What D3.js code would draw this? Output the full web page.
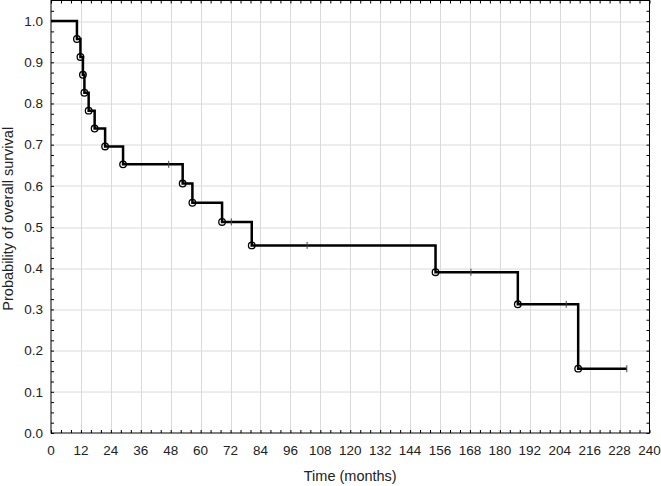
<!DOCTYPE html>
<html>
<head>
<meta charset="utf-8">
<script src="https://d3js.org/d3.v7.min.js"></script>
<style>
  body { margin: 0; background: #fff; }
  text { font-family: "Liberation Sans", Arial, sans-serif; }
</style>
</head>
<body>
<div id="km"></div>
<script>

// survival steps: time of each drop (months) and level after it
var stepTimes = [0, 10.4, 11.8, 12.8, 13.4, 15.1, 17.5, 21.7, 28.9, 52.8, 56.7, 68.6, 80.5, 154.2, 187.2, 211.4];
var stepSurv  = [1, 0.9565, 0.9130, 0.8696, 0.8261, 0.7826, 0.7391, 0.6957, 0.6522, 0.6056, 0.5590, 0.5124, 0.4555, 0.3904, 0.3124, 0.1562];
var lastTime = 230.9;

// censored observations
var censorTimes = [47.2, 72.3, 102.7, 168.4, 206.6, 230.9];

var xTicks = [0, 12, 24, 36, 48, 60, 72, 84, 96, 108, 120, 132, 144, 156, 168, 180, 192, 204, 216, 228, 240];
var yTicks = [0, 0.1, 0.2, 0.3, 0.4, 0.5, 0.6, 0.7, 0.8, 0.9, 1.0];

var width = 661, height = 486;
var margin = {top: 0.5, right: 11.5, bottom: 53, left: 51};
var w = width - margin.left - margin.right,
    h = height - margin.top - margin.bottom;

var svg = d3.select("#km")
  .append("svg")
    .attr("width", width)
    .attr("height", height)
  .append("g")
    .attr("transform", "translate(" + margin.left + "," + margin.top + ")");

var x = d3.scaleLinear().domain([0, 240]).range([0, w]);
var y = d3.scaleLinear().domain([0, 1.05]).range([h, 0]);

// grid
svg.append("g").selectAll("line")
  .data(xTicks.slice(1, -1))
  .enter().append("line")
    .attr("x1", function(d) { return Math.round(x(d)) + 0.5; })
    .attr("x2", function(d) { return Math.round(x(d)) + 0.5; })
    .attr("y1", 0).attr("y2", h)
    .style("stroke", "#dadada");

svg.append("g").selectAll("line")
  .data(yTicks.slice(1))
  .enter().append("line")
    .attr("y1", function(d) { return Math.round(y(d)) + 0.5; })
    .attr("y2", function(d) { return Math.round(y(d)) + 0.5; })
    .attr("x1", 0).attr("x2", w)
    .style("stroke", "#dadada");

// inward minor ticks on all four sides
var xMinor = d3.range(0, 241, 4);
var yMinor = d3.range(0, 1.05, 0.025);

var axisBottom = d3.axisBottom(x).tickValues(xMinor).tickSize(-3).tickFormat("");
var axisTop = d3.axisTop(x).tickValues(xMinor).tickSize(-3).tickFormat("");
var axisLeft = d3.axisLeft(y).tickValues(yMinor).tickSize(-3).tickFormat("");
var axisRight = d3.axisRight(y).tickValues(yMinor).tickSize(-3).tickFormat("");

svg.append("g").attr("transform", "translate(0," + h + ")").call(axisBottom);
svg.append("g").call(axisTop);
svg.append("g").call(axisLeft);
svg.append("g").attr("transform", "translate(" + w + ",0)").call(axisRight);
svg.selectAll(".domain").remove();
svg.selectAll(".tick line").style("stroke", "#000");

// frame
svg.append("rect")
  .attr("x", 0).attr("y", 0)
  .attr("width", w).attr("height", h)
  .style("fill", "none")
  .style("stroke", "#000");

// tick labels
svg.append("g").selectAll("text")
  .data(xTicks)
  .enter().append("text")
    .attr("x", function(d) { return x(d); })
    .attr("y", h + 22)
    .attr("text-anchor", "middle")
    .style("font-size", "13.5px")
    .style("fill", "#222")
    .text(function(d) { return d; });

svg.append("g").selectAll("text")
  .data(yTicks)
  .enter().append("text")
    .attr("x", -8)
    .attr("y", function(d) { return y(d); })
    .attr("dy", "0.35em")
    .attr("text-anchor", "end")
    .style("font-size", "13.5px")
    .style("fill", "#222")
    .text(function(d) { return d.toFixed(1); });

// axis titles
svg.append("text")
  .attr("x", w / 2)
  .attr("y", h + 48)
  .attr("text-anchor", "middle")
  .style("font-size", "14.5px")
  .style("fill", "#222")
  .text("Time (months)");

svg.append("text")
  .attr("transform", "rotate(-90)")
  .attr("x", -h / 2 - 2)
  .attr("y", -margin.left + 13)
  .attr("text-anchor", "middle")
  .style("font-size", "14.5px")
  .style("fill", "#222")
  .text("Probability of overall survival");

// survival curve
var pts = stepTimes.map(function(t, i) { return [t, stepSurv[i]]; });
pts.push([lastTime, stepSurv[stepSurv.length - 1]]);

var line = d3.line()
  .x(function(d) { return x(d[0]); })
  .y(function(d) { return y(d[1]); })
  .curve(d3.curveStepAfter);

svg.append("path")
  .datum(pts)
  .attr("d", line)
  .style("fill", "none")
  .style("stroke", "#000")
  .style("stroke-width", 2.5);

// survival level at time t
var survAt = function(t) {
  var s = 1;
  stepTimes.forEach(function(st, i) { if (st <= t) s = stepSurv[i]; });
  return s;
};

// censor marks
svg.append("g").selectAll("line")
  .data(censorTimes)
  .enter().append("line")
    .attr("x1", function(d) { return x(d); })
    .attr("x2", function(d) { return x(d); })
    .attr("y1", function(d) { return y(survAt(d)) - 3.5; })
    .attr("y2", function(d) { return y(survAt(d)) + 3.5; })
    .style("stroke", "#444")
    .style("stroke-width", 1);

// event circles
svg.append("g").selectAll("circle")
  .data(stepTimes.slice(1))
  .enter().append("circle")
    .attr("cx", function(d) { return x(d); })
    .attr("cy", function(d, i) { return y(stepSurv[i + 1]); })
    .attr("r", 3.3)
    .style("fill", "none")
    .style("stroke", "#000")
    .style("stroke-width", 1.3);

</script>
</body>
</html>
